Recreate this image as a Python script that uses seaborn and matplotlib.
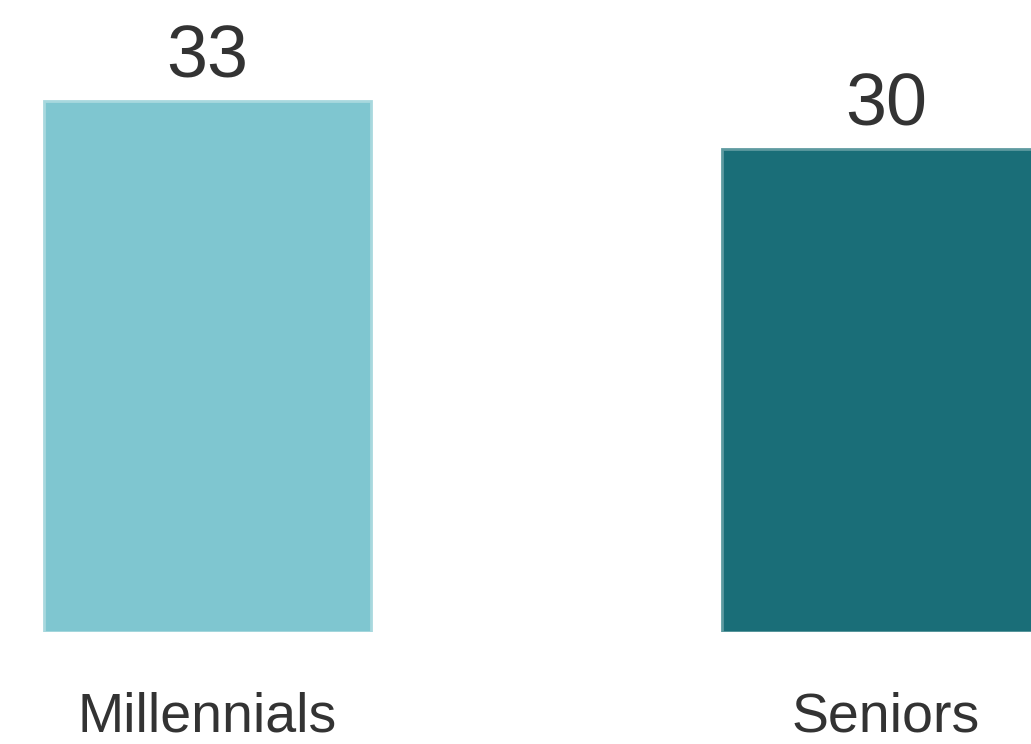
import matplotlib
matplotlib.use("Agg")
import matplotlib.pyplot as plt
import seaborn as sns
import pandas as pd

# Data
categories = ["Millennials", "Seniors"]
values = [33, 30]
colors = ["#7fc6d0", "#1a6e78"]
edge_colors = ["#a8d8de", "#5e9aa0"]

sns.set_theme(style="white")
plt.rcParams["font.family"] = ["Liberation Sans", "DejaVu Sans"]

text_color = "#333333"

fig = plt.figure(figsize=(10.31, 7.44), dpi=100)
fig.patch.set_facecolor("white")

# Axes spans from the bar baseline to the top of the figure
baseline_px = 112
ax = fig.add_axes([0, baseline_px / 744, 1, (744 - baseline_px) / 744])

df = pd.DataFrame({"group": categories, "value": values})
sns.barplot(data=df, x="group", y="value", hue="group",
            palette=dict(zip(categories, colors)), legend=False,
            saturation=1, width=0.482, ax=ax)

for patch, ec in zip(ax.patches, edge_colors):
    patch.set_edgecolor(ec)
    patch.set_linewidth(2.0)

px_per_unit = (632 - 101) / 33
ax.set_ylim(0, (744 - baseline_px) / px_per_unit)
ax.set_xlim(-207.5 / 678.5, (1031 - 207.5) / 678.5)

for container in ax.containers:
    ax.bar_label(container, fmt="%d", padding=6, fontsize=53, color=text_color)

ax.set_xlabel("")
ax.set_ylabel("")
ax.set_yticks([])
ax.tick_params(axis="x", length=0, pad=43, labelsize=40, labelcolor=text_color)
for spine in ax.spines.values():
    spine.set_visible(False)
ax.set_facecolor("white")

fig.savefig("out.png", dpi=100, facecolor="white")
